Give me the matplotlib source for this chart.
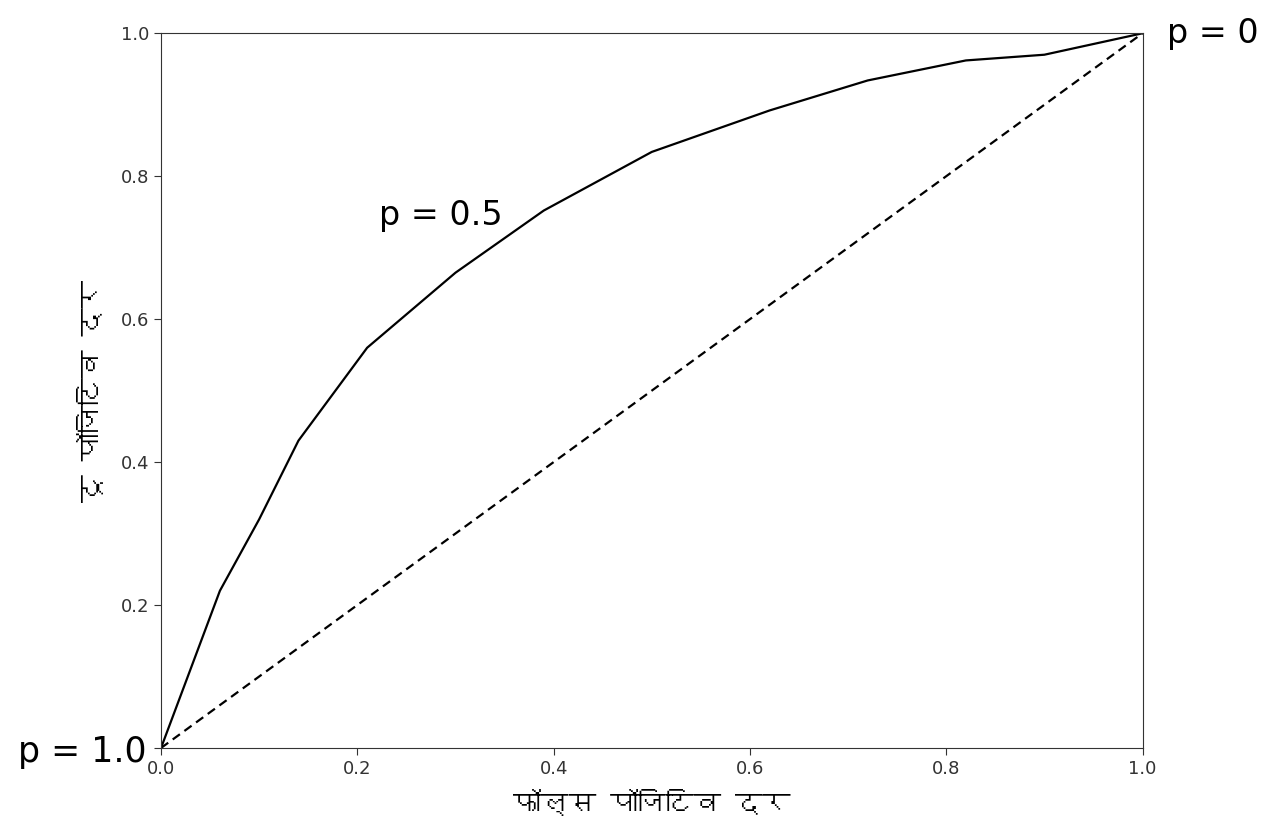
import matplotlib
matplotlib.use('Agg')
import matplotlib.pyplot as plt
from matplotlib import font_manager
from matplotlib.ft2font import FT2Font

# ROC curve points
fpr = [0.0, 0.06, 0.10, 0.14, 0.21, 0.30, 0.39, 0.50, 0.62, 0.72, 0.82, 0.90, 1.0]
tpr = [0.0, 0.22, 0.32, 0.43, 0.56, 0.665, 0.752, 0.834, 0.892, 0.934, 0.962, 0.970, 1.0]
chance = [0.0, 1.0]

ticks = [0.0, 0.2, 0.4, 0.6, 0.8, 1.0]
xticklabels = ['0.0', '0.2', '0.4', '0.6', '0.8', '1.0']
yticklabels = ['', '0.2', '0.4', '0.6', '0.8', '1.0']  # 0.0 is hidden behind "p = 1.0"
xlabel = 'फॉल्स पॉजिटिव दर'
ylabel = 'टू पॉजिटिव दर'
notes = [('p = 1.0', -0.015, -0.006), ('p = 0.5', 0.222, 0.745), ('p = 0', 1.025, 1.0)]


def find_font(ch):
    # look for any installed font that has a glyph for ch
    for f in font_manager.fontManager.ttflist:
        try:
            if FT2Font(f.fname).get_char_index(ord(ch)):
                return f.name
        except Exception:
            pass
    return None


deva = find_font('फ')
label_family = [deva, 'DejaVu Sans'] if deva else ['DejaVu Sans']

fig = plt.figure(figsize=(12.78, 8.32), dpi=100)
ax = fig.add_axes([0.126, 0.101, 0.768, 0.859])

ax.plot(fpr, tpr, color='black', lw=1.6)
ax.plot(chance, chance, color='black', lw=1.6, ls='--', dashes=(4, 2.5))

ax.set_xlim(0, 1)
ax.set_ylim(0, 1)
ax.set_xticks(ticks)
ax.set_yticks(ticks)
ax.set_xticklabels(xticklabels)
ax.set_yticklabels(yticklabels)
ax.tick_params(labelsize=13, length=5, color='#333333', labelcolor='#333333')
for s in ax.spines.values():
    s.set_color('#333333')

ax.set_xlabel(xlabel, fontsize=20, family=label_family, labelpad=8)
ax.set_ylabel(ylabel, fontsize=20, family=label_family, labelpad=12)

for txt, x, y in notes:
    if x < 0:
        ax.text(x, y, txt, ha='right', va='center', fontsize=25, clip_on=False)
    elif x > 1:
        ax.text(x, y, txt, ha='left', va='center', fontsize=24, clip_on=False)
    else:
        ax.text(x, y, txt, ha='left', va='center', fontsize=24)

plt.savefig('out.png', dpi=100)
